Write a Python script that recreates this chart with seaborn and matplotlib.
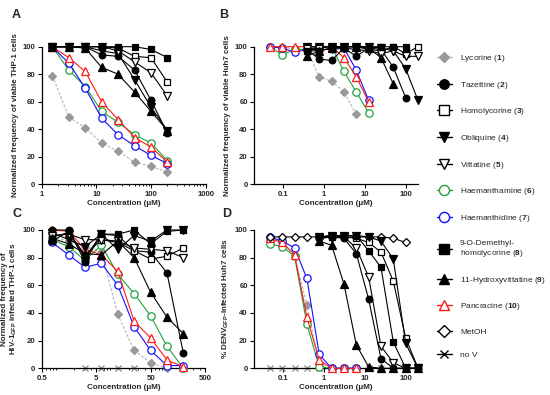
import numpy as np
import pandas as pd
import matplotlib
matplotlib.use("Agg")
import matplotlib.pyplot as plt
import seaborn as sns
from matplotlib.lines import Line2D
from matplotlib.ticker import LogLocator, NullFormatter

# ---- concentrations (uM) ----
CONC_A = [1.5625, 3.125, 6.25, 12.5, 25, 50, 100, 200]
CONC_BD = [0.0488, 0.0977, 0.195, 0.39, 0.78, 1.5625, 3.125, 6.25, 12.5, 25, 50, 100, 200]
CONC_C = [0.78, 1.5625, 3.125, 6.25, 12.5, 25, 50, 100, 200]

# ---- panel A: viable THP-1 cells ----
A_LYC = [79, 49, 41, 30, 24, 16, 13, 9]
A_TAZ = [100, 100, 100, 94, 93, 83, 61, 37]
A_HOMO = [100, 100, 100, 100, 99, 93, 92, 74]
A_OBL = [100, 100, 100, 97, 95, 76, 56, 39]
A_VIT = [100, 100, 100, 100, 97, 89, 81, 64]
A_HAEM = [100, 83, 71, 53, 45, 36, 30, 17]
A_HAEMD = [100, 88, 70, 48, 36, 28, 21, 15]
A_DEM = [100, 100, 100, 100, 100, 100, 98, 92]
A_HVIT = [100, 100, 99, 85, 80, 67, 53, 39]
A_PANC = [100, 92, 82, 60, 47, 34, 27, 16]

# ---- panel B: viable Huh7 cells (index into CONC_BD given by start) ----
B_LYC = [100, 100, 98, 98, 78, 75, 67, 51]
B_HAEM = [100, 94, 98, 98, 100, 100, 82, 67, 52]
B_HAEMD = [100, 99, 96, 98, 100, 100, 99, 83, 61]
B_PANC = [100, 100, 100, 100, 100, 100, 92, 78, 60]
B_TAZ = [98, 91, 90, 99, 93, 99, 98, 85, 63]
B_HOMO = [98, 99, 100, 100, 100, 98, 97, 100, 95, 100]
B_OBL = [100, 100, 100, 100, 100, 100, 99, 97, 84, 61]
B_VIT = [98, 98, 98, 99, 98, 97, 95, 97, 93, 93]
B_DEM = [97, 97, 99, 100, 100, 100, 100, 100, 100]
B_HVIT = [93, 97, 99, 100, 100, 99, 92, 73]

# ---- panel C: HIV-1 GFP infected THP-1 cells ----
C_LYC = [95, 92, 88, 84, 39, 13, 4, 0]
C_TAZ = [100, 100, 77, 97, 96, 85, 84, 69, 11]
C_HOMO = [95, 98, 82, 93, 91, 85, 79, 81, 87]
C_OBL = [98, 93, 88, 97, 86, 96, 92, 100, 100]
C_VIT = [96, 97, 93, 93, 92, 87, 86, 85, 80]
C_HAEM = [93, 88, 78, 89, 68, 54, 38, 16, 0]
C_HAEMD = [91, 82, 73, 76, 60, 30, 13, 2, 2]
C_DEM = [92, 99, 80, 97, 97, 100, 90, 99, 100]
C_HVIT = [94, 90, 83, 82, 92, 80, 55, 37, 25]
C_PANC = [100, 99, 86, 82, 70, 34, 22, 6, 1]
C_NOV = [0, 0, 0, 0]

# ---- panel D: DENV GFP infected Huh7 cells ----
D_LYC = [93, 91, 82, 46, 3, 0, 0, 0]
D_HAEM = [90, 88, 81, 32, 1, 0, 0, 0]
D_HAEMD = [95, 92, 87, 65, 10, 0, 0, 0]
D_PANC = [94, 91, 82, 37, 6, 0, 0, 0]
D_TAZ = [94, 95, 94, 83, 50, 7, 0, 0, 0]
D_HOMO = [95, 95, 95, 94, 91, 84, 63, 22, 0]
D_OBL = [95, 96, 96, 96, 95, 92, 79, 18, 0]
D_VIT = [94, 95, 95, 87, 66, 16, 4, 0, 0]
D_DEM = [95, 96, 96, 96, 85, 73, 19, 0, 0]
D_HVIT = [92, 89, 61, 17, 1, 0, 0, 0, 0]
D_METOH = [95, 95, 95, 95, 95, 95, 95, 95, 95, 95, 94, 91]
D_NOV = [0] * 13

COMPOUNDS = ["Lycorine", "Tazettine", "Homolycorine", "Obliquine", "Vittatine",
             "Haemanthamine", "Haemanthidine", "9-O-Demethylhomolycorine",
             "11-Hydroxyvittatine", "Pancracine", "MetOH", "no V"]

LEGEND_LABELS = [r"Lycorine ($\mathbf{1}$)", r"Tazettine ($\mathbf{2}$)",
                 r"Homolycorine ($\mathbf{3}$)", r"Obliquine ($\mathbf{4}$)",
                 r"Vittatine ($\mathbf{5}$)", r"Haemanthamine ($\mathbf{6}$)",
                 r"Haemanthidine ($\mathbf{7}$)",
                 "9-O-Demethyl-\n" + r"homolycorine ($\mathbf{8}$)",
                 r"11-Hydroxyvittatine ($\mathbf{9}$)", r"Pancracine ($\mathbf{10}$)",
                 "MetOH", "no V"]

GREEN, BLUE, RED = "#22a03c", "#1010ff", "#ff1a1a"
STYLE = {
    "Lycorine": dict(color="#b4b4b4", marker="D", mfc="#999999", mec="#999999", ms=3.6, ls=(0, (2.5, 1.5)), z=2),
    "Tazettine": dict(color="black", marker="o", mfc="black", mec="black", ms=4.8, ls="-", z=4),
    "Homolycorine": dict(color="black", marker="s", mfc="white", mec="black", ms=4.5, ls="-", z=4),
    "Obliquine": dict(color="black", marker="v", mfc="black", mec="black", ms=5.2, ls="-", z=4),
    "Vittatine": dict(color="black", marker="v", mfc="white", mec="black", ms=5.2, ls="-", z=4),
    "Haemanthamine": dict(color=GREEN, marker="o", mfc="white", mec=GREEN, ms=5.3, ls="-", z=3),
    "Haemanthidine": dict(color=BLUE, marker="o", mfc="white", mec=BLUE, ms=5.3, ls="-", z=3),
    "9-O-Demethylhomolycorine": dict(color="black", marker="s", mfc="black", mec="black", ms=4.5, ls="-", z=4),
    "11-Hydroxyvittatine": dict(color="black", marker="^", mfc="black", mec="black", ms=5.2, ls="-", z=4),
    "Pancracine": dict(color=RED, marker="^", mfc="white", mec=RED, ms=5.3, ls="-", z=3),
    "MetOH": dict(color="black", marker="D", mfc="white", mec="black", ms=3.8, ls="-", z=4),
    "no V": dict(color="#888888", marker="x", mfc="#888888", mec="#888888", ms=4, ls="-", z=1),
}


def rows(panel, conc, series):
    out = []
    for name, (start, vals) in series.items():
        for c, v in zip(conc[start:start + len(vals)], vals):
            out.append((panel, name, c, v))
    return out


records = []
records += rows("A", CONC_A, {
    "Lycorine": (0, A_LYC), "Tazettine": (0, A_TAZ), "Homolycorine": (0, A_HOMO),
    "Obliquine": (0, A_OBL), "Vittatine": (0, A_VIT), "Haemanthamine": (0, A_HAEM),
    "Haemanthidine": (0, A_HAEMD), "9-O-Demethylhomolycorine": (0, A_DEM),
    "11-Hydroxyvittatine": (0, A_HVIT), "Pancracine": (0, A_PANC)})
records += rows("B", CONC_BD, {
    "Lycorine": (0, B_LYC), "Tazettine": (3, B_TAZ), "Homolycorine": (3, B_HOMO),
    "Obliquine": (3, B_OBL), "Vittatine": (3, B_VIT), "Haemanthamine": (0, B_HAEM),
    "Haemanthidine": (0, B_HAEMD), "9-O-Demethylhomolycorine": (3, B_DEM),
    "11-Hydroxyvittatine": (3, B_HVIT), "Pancracine": (0, B_PANC)})
records += rows("C", CONC_C, {
    "no V": (2, C_NOV),
    "Lycorine": (0, C_LYC), "Tazettine": (0, C_TAZ), "Homolycorine": (0, C_HOMO),
    "Obliquine": (0, C_OBL), "Vittatine": (0, C_VIT), "Haemanthamine": (0, C_HAEM),
    "Haemanthidine": (0, C_HAEMD), "9-O-Demethylhomolycorine": (0, C_DEM),
    "11-Hydroxyvittatine": (0, C_HVIT), "Pancracine": (0, C_PANC)})
records += rows("D", CONC_BD, {
    "no V": (0, D_NOV), "MetOH": (0, D_METOH),
    "Lycorine": (0, D_LYC), "Tazettine": (4, D_TAZ), "Homolycorine": (4, D_HOMO),
    "Obliquine": (4, D_OBL), "Vittatine": (4, D_VIT), "Haemanthamine": (0, D_HAEM),
    "Haemanthidine": (0, D_HAEMD), "9-O-Demethylhomolycorine": (4, D_DEM),
    "11-Hydroxyvittatine": (4, D_HVIT), "Pancracine": (0, D_PANC)})
df = pd.DataFrame(records, columns=["panel", "compound", "conc", "value"])

sns.set_style("ticks")
plt.rcParams["font.family"] = ["Liberation Sans", "DejaVu Sans"]
plt.rcParams["mathtext.fontset"] = "custom"
plt.rcParams["mathtext.rm"] = "Liberation Sans"
plt.rcParams["mathtext.bf"] = "Liberation Sans:bold"
plt.rcParams["mathtext.it"] = "Liberation Sans:italic"

W, H = 550, 395
fig = plt.figure(figsize=(5.5, 3.95), dpi=100)


def px_axes(left, right, top, bottom):
    return fig.add_axes([left / W, 1 - bottom / H, (right - left) / W, (bottom - top) / H])


PANELS = {
    "A": dict(box=(41.7, 205.7, 46.7, 184.3), xlim=(1, 1000), ticks=[1, 10, 100, 1000],
              labels=["1", "10", "100", "1000"],
              ylabel="Normalized frequency of viable THP-1 cells", letter=(12, 15)),
    "B": dict(box=(254, 418, 46.7, 184.3), xlim=(0.02, 200), ticks=[0.1, 1, 10, 100],
              labels=["0.1", "1", "10", "100"],
              ylabel="Normalized frequency of viable Huh7 cells", letter=(219, 15)),
    "C": dict(box=(41.7, 205, 230, 368.3), xlim=(0.5, 500), ticks=[0.5, 5, 50, 500],
              labels=["0.5", "5", "50", "500"],
              ylabel="Normalized frequency of\nHIV-1$_{\\mathbf{GFP}}$ infected THP-1 cells", letter=(12, 214)),
    "D": dict(box=(254, 418, 230, 368.3), xlim=(0.02, 200), ticks=[0.1, 1, 10, 100],
              labels=["0.1", "1", "10", "100"],
              ylabel="% DENV$_{\\mathbf{GFP}}$-infected Huh7 cells", letter=(222, 214)),
}

TICK_FS = 5.6
LABEL_FS = 5.8

for key, p in PANELS.items():
    ax = px_axes(*p["box"])
    sub = df[df["panel"] == key]
    for name in ["no V", "MetOH"] + COMPOUNDS[:10]:
        d = sub[sub["compound"] == name]
        if d.empty:
            continue
        s = STYLE[name]
        sns.lineplot(data=d, x="conc", y="value", ax=ax, color=s["color"],
                     linestyle=s["ls"], linewidth=0.8, marker=s["marker"],
                     markersize=s["ms"], markerfacecolor=s["mfc"],
                     markeredgecolor=s["mec"], markeredgewidth=0.9,
                     clip_on=False, zorder=s["z"], legend=False)
    ax.set_xscale("log")
    ax.set_xlim(*p["xlim"])
    ax.set_ylim(0, 100)
    ax.set_xticks(p["ticks"])
    ax.set_xticklabels(p["labels"], fontsize=TICK_FS, fontweight="bold")
    ax.xaxis.set_minor_locator(LogLocator(base=10, subs=np.arange(2, 10)))
    ax.xaxis.set_minor_formatter(NullFormatter())
    ax.set_yticks([0, 20, 40, 60, 80, 100])
    ax.set_yticklabels(["0", "20", "40", "60", "80", "100"], fontsize=TICK_FS, fontweight="bold")
    ax.tick_params(which="major", length=3, width=0.8, pad=1.5, color="black")
    ax.tick_params(which="minor", length=1.6, width=0.6, color="black")
    for sp in ["left", "bottom"]:
        ax.spines[sp].set_linewidth(0.9)
        ax.spines[sp].set_color("black")
    sns.despine(ax=ax)
    ax.set_xlabel("Concentration (\u03bcM)", fontsize=LABEL_FS, fontweight="bold", labelpad=2)
    ax.set_ylabel(p["ylabel"], fontsize=LABEL_FS, fontweight="bold", labelpad=3, linespacing=1.1)
    fig.text(p["letter"][0] / W, 1 - p["letter"][1] / H, key, fontsize=9, fontweight="bold",
             ha="left", va="center")

handles = []
for name in COMPOUNDS:
    s = STYLE[name]
    c = "black" if name == "no V" else s["color"]
    mec = "black" if name == "no V" else s["mec"]
    handles.append(Line2D([], [], color=c, linestyle="-", linewidth=1.0, marker=s["marker"],
                          markersize=s["ms"] + 2.0, markerfacecolor=s["mfc"],
                          markeredgecolor=mec, markeredgewidth=1.0))

fig.legend(handles, LEGEND_LABELS, loc="upper left", bbox_to_anchor=(437 / W, 1 - 53 / H),
           frameon=False, fontsize=6, handlelength=1.75, handletextpad=1.0,
           labelspacing=1.88, borderpad=0, borderaxespad=0)

fig.savefig("out.png", dpi=100)
